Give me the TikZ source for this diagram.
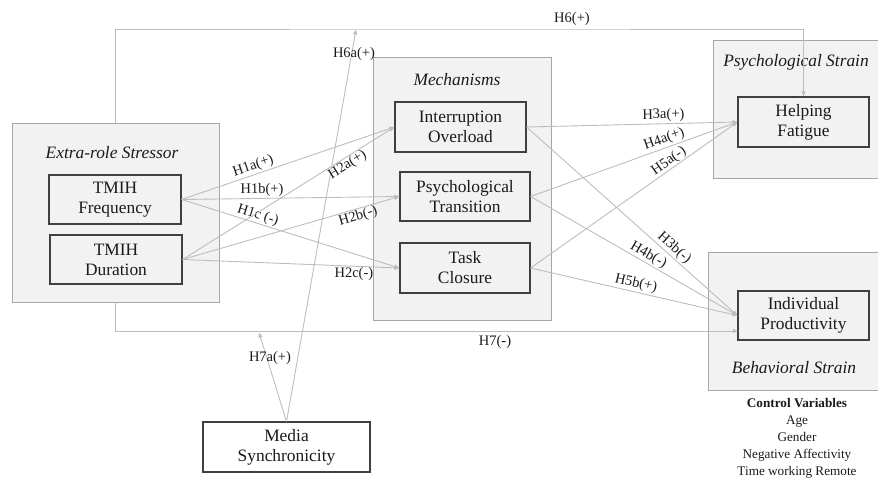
\documentclass[tikz,border=0pt]{standalone}
\usepackage{fontspec}
\setmainfont{Liberation Serif}
\usetikzlibrary{arrows.meta,calc}
\definecolor{boxfill}{HTML}{F2F2F2}
\definecolor{outerline}{HTML}{A6A6A6}
\definecolor{innerline}{HTML}{404040}
\definecolor{arrline}{HTML}{BDBDBD}
\definecolor{txt}{HTML}{1A1A1A}
\tikzset{
  group/.style={draw=outerline, fill=boxfill, line width=0.9pt, inner sep=0pt},
  var/.style={draw=innerline, fill=boxfill, line width=1.1pt, align=center, inner sep=0pt,
    font=\fontsize{17.4}{20}\selectfont, text=txt},
  grouptitle/.style={font=\fontsize{17.4}{19}\selectfont\itshape, text=txt, inner sep=0pt},
  hyp/.style={font=\fontsize{14.5}{16}\selectfont, text=txt, inner sep=1.5pt},
  arr/.style={draw=arrline, line width=0.9pt, -{Triangle[length=5pt,width=4pt]}},
  ctrl/.style={font=\fontsize{13.2}{17}\selectfont, text=txt, align=center, inner sep=0pt}
}
\begin{document}
\begin{tikzpicture}[x=1pt,y=-1pt]
\useasboundingbox (0,0) rectangle (878,480);
% groups
\node[group, minimum width=207pt, minimum height=179pt] (extra) at (115.5,212.5) {};
\node[group, minimum width=178pt, minimum height=263pt] (mech) at (462,188.5) {};
\node[group, minimum width=165pt, minimum height=138pt] (psg) at (795.5,109) {};
\node[group, minimum width=170pt, minimum height=138pt] (bsg) at (793,321) {};
% titles
\node[grouptitle] (extratitle) at (112,153) {Extra-role Stressor};
\node[grouptitle] (mechtitle) at (457,80) {Mechanisms};
\node[grouptitle] (psgtitle) at (796,62) {Psychological Strain};
\node[grouptitle] (bsgtitle) at (794,368) {Behavioral Strain};
% variables
\node[var, minimum width=132pt, minimum height=49pt] (freq) at (115,199.5) {TMIH\\Frequency};
\node[var, minimum width=132pt, minimum height=49pt] (dur) at (116,259.5) {TMIH\\Duration};
\node[var, minimum width=131pt, minimum height=50pt] (intr) at (460.5,127) {Interruption\\Overload};
\node[var, minimum width=130pt, minimum height=49pt] (psy) at (465,196.5) {Psychological\\Transition};
\node[var, minimum width=130pt, minimum height=50pt] (task) at (465,268) {Task\\Closure};
\node[var, minimum width=131pt, minimum height=50pt] (help) at (803.5,122) {Helping\\Fatigue};
\node[var, minimum width=131pt, minimum height=49pt] (prod) at (803.5,315.5) {Individual\\Productivity};
\node[var, fill=white, minimum width=167pt, minimum height=50pt] (media) at (286.5,447) {Media\\Synchronicity};
% control variables
\node[ctrl] (ctrl) at (797,438) {\textbf{Control Variables}\\Age\\Gender\\Negative Affectivity\\Time working Remote};
% coordinates
\coordinate (top) at (460,29);
\coordinate (h7end) at (738,331);
\coordinate (h6a) at (356,29.5);
\coordinate (h7a) at (259,332.5);
% H6, H7
\draw[arr] (extra.north) |- (top) -| (help.north);
\draw[arr] (extra.south) |- (h7end);
\node[hyp] (h6lab) at (572,19) {H6(+)};
\node[hyp] (h7lab) at (495,342) {H7(-)};
% media moderation
\draw[arr] (media.north) -- (h6a);
\draw[arr] (media.north) -- (h7a);
\node[hyp] (h6alab) at (354,54) {H6a(+)};
\node[hyp] (h7alab) at (270,358) {H7a(+)};
% stressor -> mechanisms
\draw[arr] (freq.east) -- node[hyp, sloped, above, pos=0.35] (h1a) {H1a(+)} (intr.west);
\draw[arr] (freq.east) -- node[hyp, sloped, above, pos=0.37] (h1b) {H1b(+)} (psy.west);
\draw[arr] (freq.east) -- node[hyp, sloped, above, pos=0.34, inner sep=0.5pt] (h1c) {H1c (-)} (task.west);
\draw[arr] (dur.east) -- node[hyp, sloped, below, pos=0.76, inner sep=0.5pt] (h2a) {H2a(+)} (intr.west);
\draw[arr] (dur.east) -- node[hyp, sloped, below, pos=0.80, inner sep=0.5pt] (h2b) {H2b(-)} (psy.west);
\draw[arr] (dur.east) -- node[hyp, below, pos=0.79, inner sep=0.5pt] (h2c) {H2c(-)} (task.west);
% mechanisms -> strain
\draw[arr] (intr.east) -- node[hyp, sloped, above, pos=0.65] (h3a) {H3a(+)} (help.west);
\draw[arr] (psy.east) -- node[hyp, sloped, above, pos=0.66] (h4a) {H4a(+)} (help.west);
\draw[arr] (task.east) -- node[hyp, sloped, above, pos=0.69, inner sep=0.5pt] (h5a) {H5a(-)} (help.west);
\draw[arr] (intr.east) -- node[hyp, sloped, above, pos=0.675, inner sep=1pt] (h3b) {H3b(-)} (prod.west);
\draw[arr] (psy.east) -- node[hyp, sloped, above, pos=0.55, inner sep=1pt] (h4b) {H4b(-)} (prod.west);
\draw[arr] (task.east) -- node[hyp, sloped, above, pos=0.50] (h5b) {H5b(+)} (prod.west);
\end{tikzpicture}
\end{document}
